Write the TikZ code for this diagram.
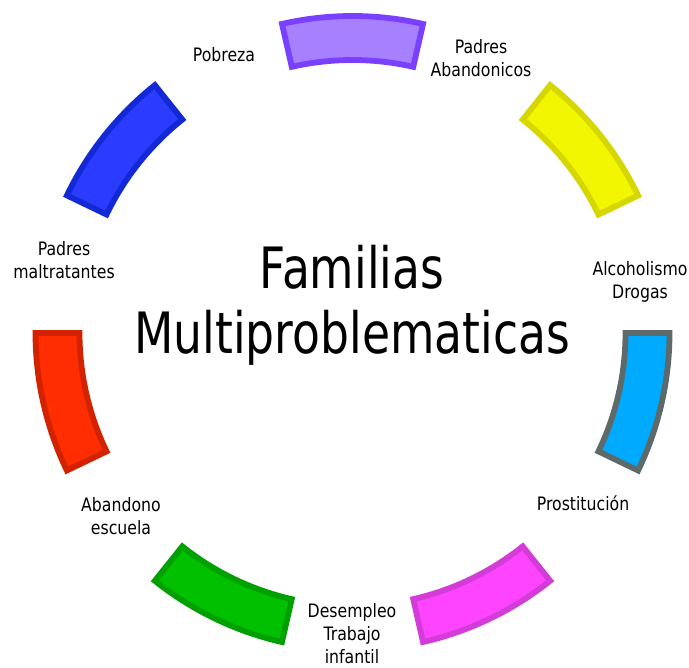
\documentclass[tikz,border=0pt]{standalone}
\usepackage{fontspec}
\setmainfont{DejaVu Sans}[FakeStretch=0.85]
\newfontfamily\titlefont{DejaVu Sans}[FakeStretch=0.8]
\definecolor{purplefill}{HTML}{A680FF}
\definecolor{purpleline}{HTML}{7A40FF}
\definecolor{yellowfill}{HTML}{F2F600}
\definecolor{yellowline}{HTML}{D6D600}
\definecolor{cyanfill}{HTML}{00AAFF}
\definecolor{cyanline}{HTML}{5E6A6A}
\definecolor{pinkfill}{HTML}{FF44FF}
\definecolor{pinkline}{HTML}{D43CD8}
\definecolor{greenfill}{HTML}{00C000}
\definecolor{greenline}{HTML}{00A000}
\definecolor{redfill}{HTML}{FF2D00}
\definecolor{redline}{HTML}{D22200}
\definecolor{bluefill}{HTML}{2B3BFF}
\definecolor{blueline}{HTML}{1429D6}
\tikzset{
  segm/.style={line width=5.8pt},
  probtext/.style={align=center,font=\fontsize{18.5}{23}\selectfont},
}
\begin{document}
\begin{tikzpicture}[x=1pt,y=1pt]
                \useasboundingbox (0,0) rectangle (689,668);
                \coordinate (c) at (352.5,335);

                % ring pieces
                \begin{scope}[shift={(c)}]
                \foreach \a/\ln/\fl in {77.14/purpleline/purplefill, 25.71/yellowline/yellowfill,
                    -25.71/cyanline/cyanfill, -77.14/pinkline/pinkfill, -128.57/greenline/greenfill,
                    -180/redline/redfill, 128.57/blueline/bluefill}
                    \draw[segm,draw=\ln,fill=\fl] (\a:317) arc[start angle=\a,delta angle=25.71,radius=317]
                        -- ({\a+25.71}:273) arc[start angle={\a+25.71},delta angle=-25.71,radius=273] -- cycle;
                \end{scope}

                \node (title) at (352,360) {\titlefont\fontsize{57}{65}\selectfont\begin{tabular}{c}Familias\\Multiproblematicas\end{tabular}};

                \node[probtext] (pobreza) at (224,613) {Pobreza};
                \node[probtext] (aband) at (481,610) {Padres\\Abandonicos};
                \node[probtext] (alcohol) at (640,386) {Alcoholismo\\Drogas};
                \node[probtext] (prost) at (583,165) {Prostitución};
                \node[probtext] (desemp) at (352,34) {Desempleo\\Trabajo\\infantil};
                \node[probtext] (escuela) at (121,152) {Abandono\\escuela};
                \node[probtext] (maltrato) at (64,408) {Padres\\maltratantes};
            \end{tikzpicture}
\end{document}
